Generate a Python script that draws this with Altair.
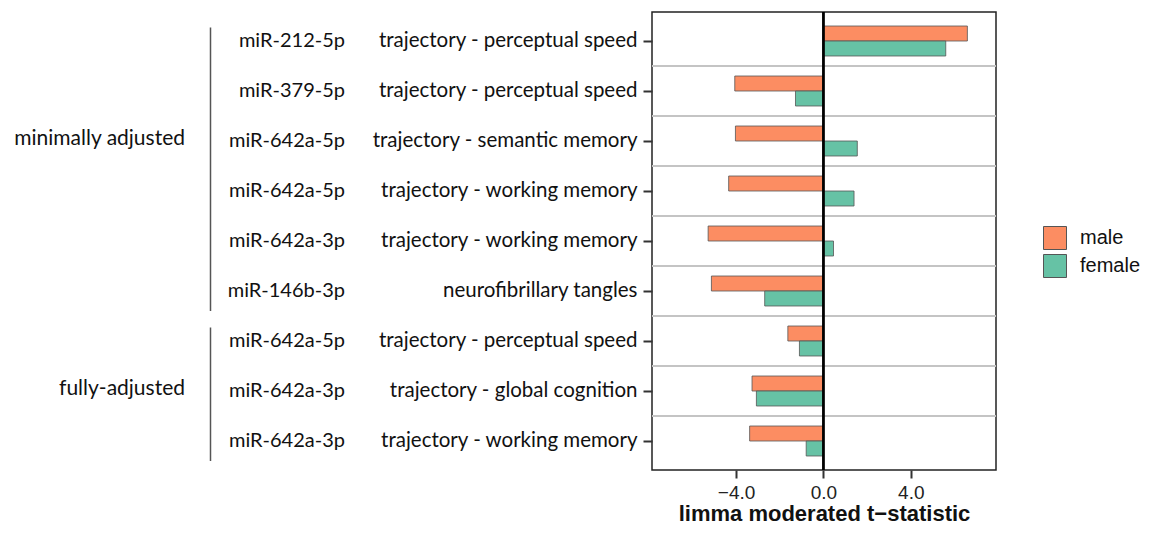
import json
import altair as alt
import pandas as pd

rows = [1, 2, 3, 4, 5, 6, 7, 8, 9]
groups = ["minimally adjusted", "fully-adjusted"]
group_first = [1, 7]
group_last = [6, 9]
group_label_row = [3, 8]
mirnas = ["miR-212-5p", "miR-379-5p", "miR-642a-5p", "miR-642a-5p", "miR-642a-3p",
          "miR-146b-3p", "miR-642a-5p", "miR-642a-3p", "miR-642a-3p"]
traits = ["trajectory - perceptual speed", "trajectory - perceptual speed",
          "trajectory - semantic memory", "trajectory - working memory",
          "trajectory - working memory", "neurofibrillary tangles",
          "trajectory - perceptual speed", "trajectory - global cognition",
          "trajectory - working memory"]
male = [6.59, -4.06, -4.03, -4.34, -5.28, -5.13, -1.63, -3.27, -3.38]
female = [5.60, -1.28, 1.55, 1.40, 0.46, -2.69, -1.10, -3.07, -0.79]
sexes = ["male", "female"]
colors = ["#FC8D62", "#66C2A5"]
x_ticks = [-4, 0, 4]

bars = pd.DataFrame({
    "row": rows * 2,
    "sex": ["male"] * len(rows) + ["female"] * len(rows),
    "t": male + female,
})
labels = pd.DataFrame({"row": rows, "mirna": mirnas, "trait": traits})
grp = pd.DataFrame({"group": groups, "row": group_label_row,
                    "first": group_first, "last": group_last})
sep = pd.DataFrame({"row": rows[1:]})
zero = pd.DataFrame({"t": [0]})

yscale = alt.Scale(domain=rows, paddingInner=0, paddingOuter=0.08)
xscale = alt.Scale(domain=[-7.85, 7.9], nice=False)
label_font = "Lato"

separators = alt.Chart(sep).mark_rule(color="#c4c4c4", strokeWidth=2.2).encode(
    y=alt.Y("row:O", bandPosition=0, scale=yscale, title=None)
)

bar_layer = alt.Chart(bars).mark_bar(stroke="#555555", strokeWidth=0.8, opacity=1).encode(
    x=alt.X("t:Q", scale=xscale,
            axis=alt.Axis(values=x_ticks, format=".1f", labelFont="Liberation Sans",
                          labelFontSize=19, labelColor="#222", labelPadding=5,
                          tickSize=8, tickWidth=2, tickColor="#333",
                          titleFont="Liberation Sans", titleFontSize=22,
                          titleFontWeight="bold", titleColor="#111", titlePadding=1),
            title="limma moderated t\u2212statistic"),
    y=alt.Y("row:O", scale=yscale, title=None,
            axis=alt.Axis(labelExpr=json.dumps(traits) + "[datum.value - 1]",
                          labelFont=label_font, labelFontSize=20.5, labelColor="#111",
                          labelPadding=6, tickSize=9, tickWidth=2, tickColor="#333",
                          labelLimit=400)),
    yOffset=alt.YOffset("sex:N", sort=sexes,
                        scale=alt.Scale(paddingInner=0, paddingOuter=0.667)),
    color=alt.Color("sex:N", sort=sexes,
                    scale=alt.Scale(domain=sexes, range=colors),
                    legend=alt.Legend(title=None, orient="none", legendX=391, legendY=214,
                                      symbolType="square", symbolSize=529,
                                      symbolStrokeColor="#555555", symbolStrokeWidth=1,
                                      symbolOpacity=1, labelFont="Liberation Sans",
                                      labelFontSize=20, labelColor="#111",
                                      labelOffset=13, rowPadding=0, padding=0)),
)

zero_line = alt.Chart(zero).mark_rule(color="black", strokeWidth=2.8).encode(
    x=alt.X("t:Q", scale=xscale)
)

mirna_text = alt.Chart(labels).mark_text(
    align="right", baseline="middle", font=label_font, fontSize=20, color="#111"
).encode(x=alt.value(-307), y=alt.Y("row:O", scale=yscale), text="mirna:N")

group_text = alt.Chart(grp).mark_text(
    align="right", baseline="middle", font=label_font, fontSize=21, color="#111", dy=-2
).encode(x=alt.value(-467), y=alt.Y("row:O", scale=yscale), text="group:N")

group_lines = alt.Chart(grp).mark_rule(color="#555555", strokeWidth=1.5).encode(
    x=alt.value(-441.5),
    y=alt.Y("first:O", bandPosition=0.23, scale=yscale),
    y2=alt.Y2("last:O", bandPosition=0.9),
)

chart = alt.layer(
    separators, bar_layer, zero_line, mirna_text, group_text, group_lines
).properties(
    width=344, height=458,
    padding={"left": 644, "top": 4, "right": 146, "bottom": 57},
    autosize=alt.AutoSizeParams(type="none"),
).configure_view(
    stroke="#222", strokeWidth=1.5
).configure_axis(
    domain=False, grid=False
)

chart.save("out.html", embed_options={"renderer": "svg", "actions": False})
